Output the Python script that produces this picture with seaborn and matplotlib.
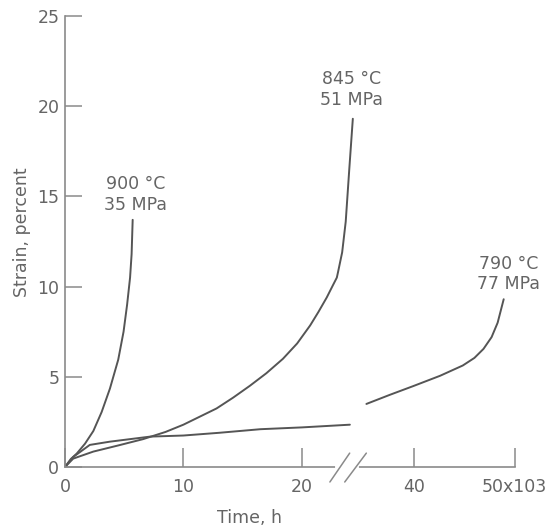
import numpy as np
import pandas as pd
import matplotlib
matplotlib.use("Agg")
import matplotlib.pyplot as plt
import seaborn as sns

# ---- data (time in 10^3 h, strain in percent) ----
t_900 = [0, 0.5, 1.0, 1.7, 2.4, 3.1, 3.8, 4.5, 4.95, 5.25, 5.5, 5.63, 5.72]
s_900 = [0, 0.45, 0.75, 1.3, 2.0, 3.05, 4.35, 5.95, 7.5, 9.0, 10.5, 11.8, 13.7]

t_845 = [0, 0.7, 2.4, 4.5, 6.6, 8.5, 10.0, 11.4, 12.8, 14.2, 15.6, 17.0, 18.4,
         19.6, 20.7, 21.4, 22.1, 22.6, 22.95, 23.05, 23.4, 23.7, 24.0, 24.3]
s_845 = [0, 0.47, 0.86, 1.2, 1.55, 1.95, 2.35, 2.8, 3.25, 3.85, 4.5, 5.2, 6.0,
         6.85, 7.85, 8.6, 9.4, 10.05, 10.5, 10.8, 11.9, 13.6, 16.5, 19.3]

t_790a = [0, 0.7, 2.1, 3.8, 7.2, 10.0, 13.0, 16.5, 20.0, 24.05]
s_790a = [0, 0.56, 1.23, 1.41, 1.69, 1.75, 1.9, 2.1, 2.2, 2.35]
t_790b = [35.3, 37.6, 39.9, 42.6, 44.85, 46.0, 46.9, 47.7, 48.3, 48.9]
s_790b = [3.5, 4.0, 4.48, 5.06, 5.63, 6.05, 6.55, 7.2, 8.0, 9.3]

x_ticks = [0, 10, 20, 40, 50]
x_ticklabels = ["0", "10", "20", "40", "50x103"]
y_ticks = [0, 5, 10, 15, 20, 25]

labels = ["900 °C\n35 MPa", "845 °C\n51 MPa", "790 °C\n77 MPa"]
label_pos = [(6.0, 15.1), (24.2, 20.9), (49.4, 10.7)]

# ---- styling ----
sns.set_theme(style="ticks")
plt.rcParams["font.family"] = ["DejaVu Sans"]
TXT = "#656565"
LINE = "#555555"
AX = "#8a8a8a"
FS = 12.5

fig = plt.figure(figsize=(5.5, 5.29), dpi=100)
ax = fig.add_axes([0.118, 0.117, 0.818, 0.853])

# broken time axis as a piecewise-linear scale
tk = [-100.0, 24.4, 35.0, 200.0]
uk = [-100.0, 24.4, 29.45 + 0.852 * (35 - 40), 29.45 + 0.852 * (200 - 40)]


def fwd(x):
    return np.interp(x, tk, uk)


def inv(u):
    return np.interp(u, uk, tk)


ax.set_xscale("function", functions=(fwd, inv))

curves = [
    ("900", t_900, s_900),
    ("845", t_845, s_845),
    ("790a", t_790a, s_790a),
    ("790b", t_790b, s_790b),
]
for name, t, s in curves:
    df = pd.DataFrame({"time": t, "strain": s})
    sns.lineplot(data=df, x="time", y="strain", ax=ax, sort=False,
                 estimator=None, color=LINE, lw=1.4)

ax.set_xlim(0, 50)
ax.set_ylim(0, 25)
ax.set_xticks(x_ticks)
ax.set_xticklabels(x_ticklabels)
ax.set_yticks(y_ticks)

for sp in ["top", "right"]:
    ax.spines[sp].set_visible(False)
for sp in ["left", "bottom"]:
    ax.spines[sp].set_color(AX)
    ax.spines[sp].set_linewidth(1.2)

ax.tick_params(axis="x", direction="in", length=14, width=1.1, color=AX,
               labelsize=FS, labelcolor=TXT, pad=8)
ax.tick_params(axis="y", direction="in", length=12, width=1.1, color=AX,
               labelsize=FS, labelcolor=TXT, pad=4)

ax.set_xlabel("Time, h", fontsize=FS, color=TXT)
ax.set_ylabel("Strain, percent", fontsize=FS, color=TXT)
ax.xaxis.set_label_coords(0.41, -0.093)
ax.yaxis.set_label_coords(-0.075, 0.52)

for txt, (x, y) in zip(labels, label_pos):
    ax.text(x, y, txt, ha="center", va="center", fontsize=FS, color=TXT,
            linespacing=1.2, clip_on=False)

# break marks on the time axis
ax.plot([0.605, 0.65], [0, 0], transform=ax.transAxes, color="white",
        lw=3, clip_on=False, zorder=5)
ax.plot([0.589, 0.633], [-0.033, 0.031], transform=ax.transAxes, color=AX,
        lw=1.1, clip_on=False, zorder=6)
ax.plot([0.622, 0.67], [-0.033, 0.031], transform=ax.transAxes, color=AX,
        lw=1.1, clip_on=False, zorder=6)

fig.savefig("out.png", dpi=100)
